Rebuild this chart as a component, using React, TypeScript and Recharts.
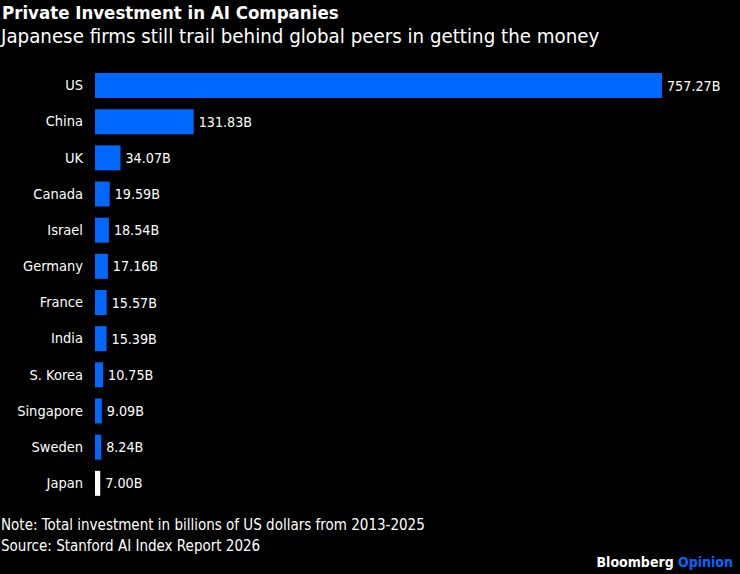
import React from 'react';
import { BarChart, Bar, XAxis, YAxis, Cell, LabelList } from 'recharts';

const countries = ['US', 'China', 'UK', 'Canada', 'Israel', 'Germany', 'France', 'India', 'S. Korea', 'Singapore', 'Sweden', 'Japan'];
const investment = [757.27, 131.83, 34.07, 19.59, 18.54, 17.16, 15.57, 15.39, 10.75, 9.09, 8.24, 7.0];
const highlight = 'Japan';

const data = countries.map((c, i) => ({ country: c, value: investment[i] }));

const FONT = '"DejaVu Sans Condensed", "DejaVu Sans", sans-serif';
const BLUE = '#0068ff';

const App: React.FC = () => {
  return (
    <div
      style={{
        position: 'fixed',
        top: 0,
        left: 0,
        width: 740,
        height: 574,
        background: '#000',
        color: '#fff',
        fontFamily: FONT,
        overflow: 'hidden',
      }}
    >
      <div style={{ position: 'absolute', left: 2, top: 2, fontSize: 18.5, fontWeight: 'bold' }}>
        Private Investment in AI Companies
      </div>
      <div style={{ position: 'absolute', left: 1, top: 24, fontSize: 20.3 }}>
        Japanese firms still trail behind global peers in getting the money
      </div>
      <div style={{ position: 'absolute', top: 62 }}>
        <BarChart
          width={740}
          height={444}
          data={data}
          layout="vertical"
          margin={{ top: 5, right: 78, bottom: 5, left: 0 }}
          barSize={25}
        >
          <XAxis type="number" domain={[0, 757.27]} hide />
          <YAxis
            type="category"
            dataKey="country"
            width={95}
            tickSize={0}
            tickMargin={12}
            axisLine={false}
            tickLine={false}
            tick={{ fill: '#fff', fontSize: 14.5, fontFamily: FONT }}
          />
          <Bar dataKey="value" isAnimationActive={false}>
            {data.map((d) => (
              <Cell key={d.country} fill={d.country === highlight ? '#ffffff' : BLUE} />
            ))}
            <LabelList
              dataKey="value"
              position="right"
              offset={5}
              fill="#fff"
              fontSize={14.2}
              fontFamily={FONT}
              formatter={(v: any) => `${Number(v).toFixed(2)}B`}
            />
          </Bar>
        </BarChart>
      </div>
      <div style={{ position: 'absolute', left: 1, top: 515, fontSize: 15, lineHeight: '21px' }}>
        Note: Total investment in billions of US dollars from 2013-2025
        <br />
        Source: Stanford AI Index Report 2026
      </div>
      <div style={{ position: 'absolute', right: 7, top: 554, fontSize: 14, fontWeight: 'bold' }}>
        Bloomberg <span style={{ color: BLUE }}>Opinion</span>
      </div>
    </div>
  );
};

export default App;
